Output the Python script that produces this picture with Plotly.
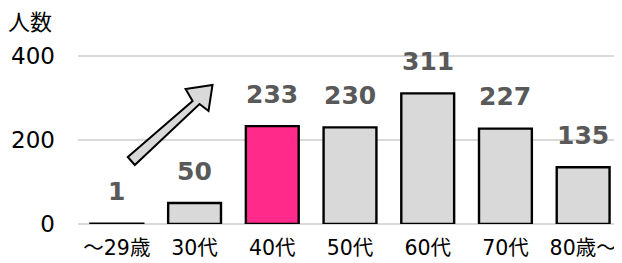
import plotly.graph_objects as go

categories = ["～29歳", "30代", "40代", "50代", "60代", "70代", "80歳～"]
values = [1, 50, 233, 230, 311, 227, 135]
highlight = "40代"
y_ticks = [0, 200, 400]

colors = ["#FF2A8A" if c == highlight else "#D9D9D9" for c in categories]
FONT = "DejaVu Sans, Noto Sans CJK JP"

# page offset (body margin) compensation
OFF = 8
W, H = 622 - OFF, 263 - OFF
L, T, B = 78 - OFF, 40 - OFF, 39

fig = go.Figure()
fig.add_trace(go.Bar(
    x=list(range(len(categories))), y=values,
    marker=dict(color=colors, line=dict(color="#000000", width=2.4)),
    width=0.68, hoverinfo="skip",
))

for i, v in enumerate(values):
    fig.add_annotation(x=i, y=v, text=f"<b>{v}</b>", showarrow=False,
                       yshift=32, font=dict(family=FONT, size=25, color="#595959"))

# arrow decoration (given in page pixels, converted to axis units)
def px(xp, yp):
    return ((xp - 78) / 78.0 - 0.5, (224 - yp) / 0.42)

pts = [(128, 157), (193, 101), (186, 89), (213, 85), (209, 111), (200, 104), (135, 165)]
path = "M " + " L ".join(f"{a:.4f},{b:.3f}" for a, b in (px(*p) for p in pts)) + " Z"
fig.add_shape(type="path", path=path, xref="x", yref="y",
              fillcolor="#D9D9D9", line=dict(color="#000000", width=2))

plot_w = W - L
plot_h = H - T - B
fig.add_annotation(x=(30 - 78) / plot_w, y=1 + (T + OFF - 22) / plot_h,
                   xref="paper", yref="paper", text="人数", showarrow=False,
                   xanchor="center", yanchor="middle",
                   font=dict(family=FONT, size=22, color="#000000"))

fig.update_layout(
    width=W, height=H,
    margin=dict(l=L, r=0, t=T, b=B),
    plot_bgcolor="white", paper_bgcolor="white",
    showlegend=False,
    font=dict(family=FONT, color="#000000"),
)
fig.update_xaxes(
    tickmode="array", tickvals=list(range(len(categories))), ticktext=categories,
    range=[-0.5, len(categories) - 0.5], showgrid=False, zeroline=False, showline=False,
    tickfont=dict(family=FONT, size=20.5, color="#000000"), ticks="",
    ticklabelstandoff=9,
)
fig.update_yaxes(
    range=[0, 438], tickvals=y_ticks, showgrid=True, gridcolor="#D9D9D9", gridwidth=1.5,
    zeroline=True, zerolinecolor="#D9D9D9", zerolinewidth=1.5,
    tickfont=dict(family=FONT, size=23, color="#000000"), ticks="",
    ticklabelstandoff=22,
)
fig.write_html("out.html")
